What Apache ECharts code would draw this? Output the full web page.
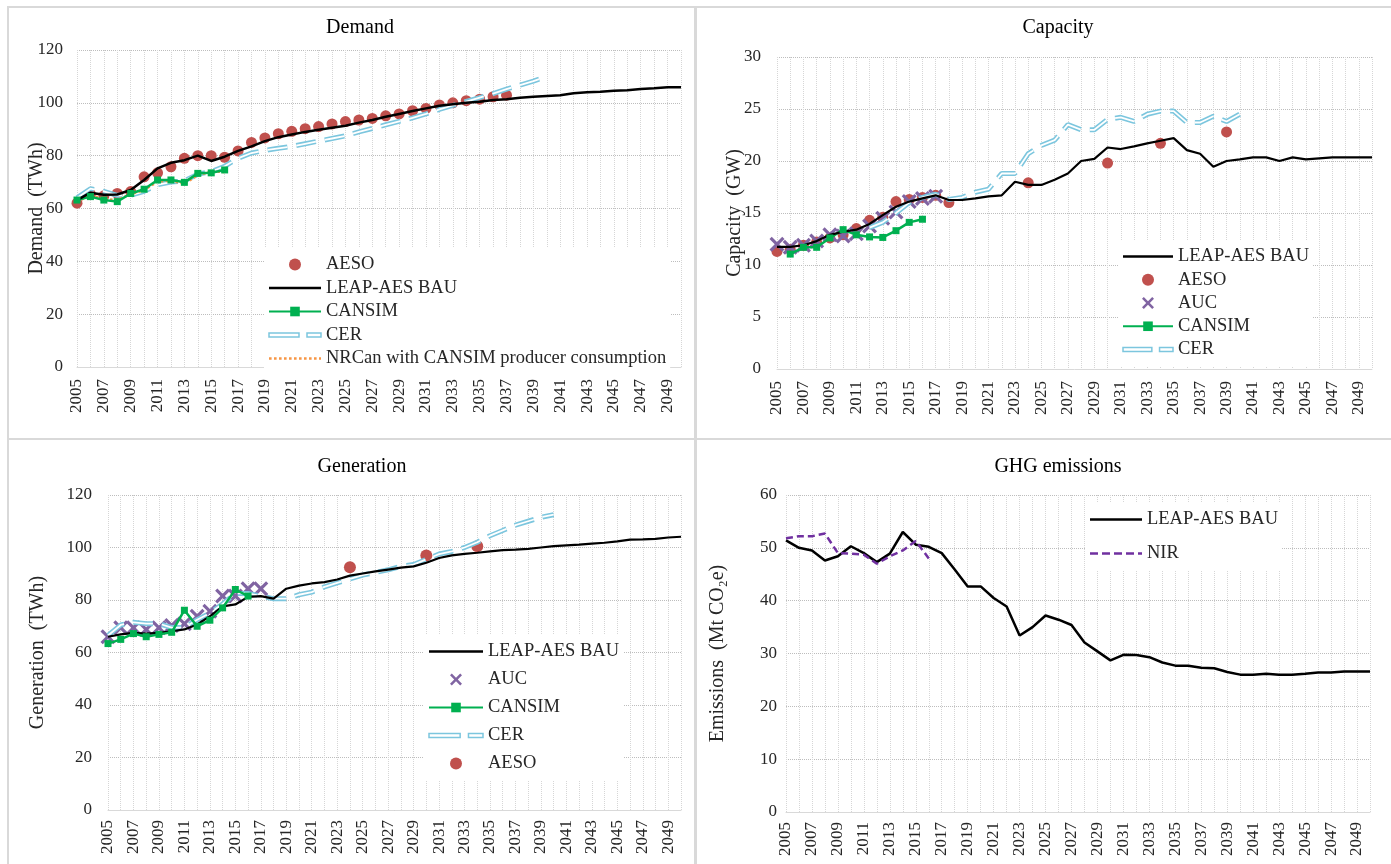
<!DOCTYPE html>
<html><head><meta charset="utf-8">
<script src="https://cdn.jsdelivr.net/npm/echarts@6/dist/echarts.min.js"></script>
<style>html,body{margin:0;padding:0;background:#fff}#c{width:1391px;height:864px}</style>
</head><body><div id="c"></div>
<script>
// ---------- categories ----------
const years = [2005,2006,2007,2008,2009,2010,2011,2012,2013,2014,2015,2016,2017,2018,2019,2020,2021,2022,2023,2024,2025,2026,2027,2028,2029,2030,2031,2032,2033,2034,2035,2036,2037,2038,2039,2040,2041,2042,2043,2044,2045,2046,2047,2048,2049,2050];

// ---------- Demand (TWh) ----------
const demandAESO = [62.0,65.4,64.8,65.7,66.4,72.0,73.5,75.8,79.0,80.0,80.0,79.4,81.8,85.0,86.7,88.3,89.2,90.2,91.0,92.0,92.9,93.5,94.1,95.1,95.8,97.0,97.9,99.2,100.0,100.8,101.4,102.3,102.9];
const demandLEAP = [63.2,66.0,65.2,65.3,67.0,70.8,75.2,77.3,78.3,80.0,78.0,79.6,81.8,83.5,85.5,87.0,88.0,89.0,89.8,90.6,91.3,92.5,93.5,94.7,95.8,96.9,97.9,98.9,99.5,100.0,100.4,101.1,101.4,101.9,102.3,102.6,102.9,103.6,104.0,104.2,104.6,104.8,105.2,105.5,105.9,105.9];
const demandCANSIM = [63.2,64.5,63.2,62.6,65.7,67.3,70.8,70.8,69.9,73.3,73.5,74.6];
const demandCER = [64.0,67.5,66.5,65.0,65.0,66.5,69.0,70.0,70.5,73.0,74.0,76.0,79.0,81.0,82.0,82.8,83.5,84.5,85.5,86.5,87.5,89.0,90.3,91.7,93.0,94.3,95.8,97.5,99.0,100.5,102.0,103.5,105.2,106.7,108.2,110.0];
const demandNRCan = [62.6,65.0,63.6,63.2,65.4,67.0,70.2,70.5,69.4,72.6,74.0,73.8];

// ---------- Capacity (GW) ----------
const capLEAP = [11.75,11.75,11.9,12.3,12.9,13.2,13.4,13.95,14.8,15.6,16.1,16.4,16.7,16.25,16.25,16.4,16.6,16.7,18.0,17.7,17.7,18.2,18.8,20.0,20.2,21.3,21.15,21.4,21.7,21.95,22.2,21.05,20.7,19.45,20.0,20.15,20.35,20.35,20.0,20.35,20.15,20.25,20.35,20.35,20.35,20.35];
const capAESOYears = [2005,2006,2007,2008,2009,2010,2011,2012,2013,2014,2015,2016,2017,2018,2024,2030,2034,2039];
const capAESOValues = [11.3,11.5,11.9,12.2,12.6,12.9,13.5,14.3,14.6,16.1,16.3,16.5,16.7,16.0,17.9,19.8,21.7,22.8];
const capAUC = [12.0,11.7,11.9,12.3,12.9,12.8,13.0,13.75,14.5,15.1,16.1,16.4,16.6];
const capCANSIMStart = 2006;
const capCANSIM = [11.05,11.7,11.7,12.6,13.4,12.9,12.7,12.65,13.3,14.1,14.4];
const capCERStart = 2012;
const capCER = [13.6,14.1,15.0,16.0,16.5,16.8,16.3,16.5,17.0,17.3,18.8,18.8,20.7,21.5,22.0,23.5,23.0,23.0,24.0,24.2,23.8,24.5,24.8,24.8,23.7,23.7,24.3,23.8,24.5];

// ---------- Generation (TWh) ----------
const genLEAP = [66.0,66.9,67.5,67.2,67.5,68.1,68.8,70.7,73.8,77.6,78.3,81.2,81.5,80.5,84.3,85.5,86.3,86.8,87.8,89.3,90.1,90.9,91.6,92.3,92.8,94.2,96.0,97.0,97.6,98.0,98.5,99.0,99.2,99.5,100.0,100.5,100.8,101.1,101.5,101.8,102.3,103.0,103.1,103.3,103.8,104.1];
const genAUC = [66.0,69.4,69.4,68.8,69.4,70.3,71.0,73.8,75.7,81.5,81.5,84.3,84.3];
const genCANSIM = [63.4,65.0,67.2,66.0,66.9,67.7,76.1,70.0,72.3,77.0,84.0,81.5];
const genCER = [66.5,70.5,71.5,71.0,71.0,69.5,69.5,72.5,75.0,78.5,82.5,82.5,81.5,80.5,80.5,82.0,83.0,85.0,86.5,88.0,89.5,90.5,91.5,92.8,93.5,95.5,97.5,98.5,100.0,102.0,104.5,106.5,108.5,110.0,111.5,112.5];
const genAESOYears = [2024,2030,2034];
const genAESOValues = [92.5,97.0,100.5];

// ---------- GHG emissions (Mt CO2e) ----------
const ghgLEAP = [51.4,50.0,49.5,47.6,48.4,50.3,49.0,47.3,48.9,53.0,50.6,50.2,49.0,45.9,42.7,42.7,40.5,38.9,33.4,35.0,37.2,36.4,35.4,32.1,30.4,28.7,29.75,29.7,29.3,28.3,27.7,27.7,27.3,27.2,26.5,26.0,26.0,26.15,26.0,26.0,26.15,26.4,26.4,26.6,26.6,26.6];
const ghgNIR = [51.8,52.2,52.2,52.7,49.0,48.9,48.7,47.0,48.4,49.5,51.3,48.0];

// ---------- styling ----------
const FONT = '"Liberation Serif", "Times New Roman", serif';
const TXT = '#262626';
const C_AESO = '#c0504d', C_LEAP = '#000000', C_CANSIM = '#00b050', C_CER = '#7cc6de', C_NRCAN = '#f79646', C_AUC = '#8064a2', C_NIR = '#7030a0';
const CROSS = 'path://M3,0 L10,7 L17,0 L20,3 L13,10 L20,17 L17,20 L10,13 L3,20 L0,17 L7,10 L0,3 Z';
const CER_ICON = 'path://M0,0 H30 V4 H0 Z M38,0 H52 V4 H38 Z';
const CER_DASH = [20, 9];

function dashIcon(total, dash, gap, h){
  let p = 'path://';
  for (let x = 0; x < total; x += dash + gap) {
    const w = Math.min(dash, total - x);
    p += 'M' + x + ',0 h' + w + ' v' + h + ' h-' + w + ' Z ';
  }
  return p;
}
const ICON_SOLID = 'path://M0,0 H52 V2.6 H0 Z';
const ICON_DOT = dashIcon(52, 2.6, 2.4, 2.6);
const ICON_NIR = dashIcon(52, 8, 4, 2.6);

const cats = years.map(String);
function pad(start, arr){ return new Array(start - years[0]).fill(null).concat(arr); }
function pairs(ys, vs){ return ys.map((y, i) => [String(y), vs[i]]); }

function xAx(g, margin){
  return {type:'category', gridIndex:g, data:cats, boundaryGap:false,
    axisTick:{show:false}, axisLine:{lineStyle:{color:'#d9d9d9', width:1}},
    axisLabel:{rotate:90, interval:1, fontSize:17, fontFamily:FONT, color:TXT, margin:margin},
    splitLine:{show:true, interval:0, lineStyle:{color:'#d6d6d6', type:'dotted'}}};
}
function yAx(g, max, interval, name, gap, margin){
  return {type:'value', gridIndex:g, min:0, max:max, interval:interval,
    name:name, nameLocation:'middle', nameGap:gap, nameRotate:90, nameMoveOverlap:false,
    nameTextStyle:{fontFamily:FONT, fontSize:20, color:TXT},
    axisLine:{show:false}, axisTick:{show:false},
    axisLabel:{fontSize:17, fontFamily:FONT, color:TXT, margin:margin},
    splitLine:{lineStyle:{color:'#bdbdbd', type:'dotted'}}};
}
function lineS(name, g, data, color, width, extra){
  return Object.assign({type:'line', name:name, xAxisIndex:g, yAxisIndex:g, data:data,
    symbol:'none', showSymbol:false, connectNulls:false, silent:true,
    lineStyle:{color:color, width:width}, itemStyle:{color:color}}, extra || {});
}
function cerS(g, data){
  return [
    lineS('CER', g, data, C_CER, 5, {lineStyle:{color:C_CER, width:5, type:CER_DASH, cap:'butt'}}),
    lineS('CER_inner', g, data, '#ffffff', 1.8, {lineStyle:{color:'#ffffff', width:1.8, type:CER_DASH, cap:'butt'}})
  ];
}
function cansimS(g, data){
  return lineS('CANSIM', g, data, C_CANSIM, 2.5, {symbol:'rect', showSymbol:true, symbolSize:7});
}
function aesoS(g, data, size){
  return {type:'scatter', name:'AESO', xAxisIndex:g, yAxisIndex:g, data:data, symbol:'circle', symbolSize:size, itemStyle:{color:C_AESO, opacity:1}, silent:true};
}
function aucS(g, data){
  return {type:'scatter', name:'AUC', xAxisIndex:g, yAxisIndex:g, data:data, symbol:CROSS, symbolSize:15, itemStyle:{color:C_AUC, opacity:1}, silent:true};
}
function legend(items, left, top, gap, w){
  return {orient:'vertical', left:left, top:top, itemGap:gap, itemWidth:w, itemHeight:12,
    backgroundColor:'#ffffff', padding:[6,4,6,4], selectedMode:false,
    textStyle:{fontFamily:FONT, fontSize:18.5, color:TXT, lineHeight:21},
    data:items};
}
const L_LEAP = {name:'LEAP-AES BAU', icon:ICON_SOLID};
const L_AESO = {name:'AESO'};
const L_AUC = {name:'AUC'};
const L_CANSIM = {name:'CANSIM'};
const L_CER = {name:'CER', icon:CER_ICON, itemStyle:{color:'#ffffff', borderColor:C_CER, borderWidth:1.5}};
const L_NRCAN = {name:'NRCan with CANSIM producer consumption', icon:ICON_DOT};
const L_NIR = {name:'NIR', icon:ICON_NIR};

function titleT(text, x, y){
  return {text:text, left:x, top:y, textAlign:'center', padding:0,
    textStyle:{fontFamily:FONT, fontSize:20, fontWeight:'normal', color:'#000'}};
}
function bar(x, y, w, h){ return {type:'rect', shape:{x:x, y:y, width:w, height:h}, style:{fill:'#d9d9d9'}, silent:true}; }

const option = {
  animation:false,
  backgroundColor:'#ffffff',
  title:[
    titleT('Demand', 360, 18),
    titleT('Capacity', 1058, 18),
    titleT('Generation', 362, 457),
    titleT('GHG emissions', 1058, 457)
  ],
  graphic:[
    bar(8, 6, 1383, 2),
    bar(7, 6, 2, 858),
    bar(694, 6, 3, 858),
    bar(8, 438, 1383, 2)
  ],
  grid:[
    {left:77, right:710, top:50, bottom:497},
    {left:777, right:19, top:57, bottom:495},
    {left:108, right:710, top:495, bottom:54},
    {left:786, right:21, top:495, bottom:52}
  ],
  xAxis:[xAx(0, 12), xAx(1, 12), xAx(2, 10), xAx(3, 10)],
  yAxis:[
    yAx(0, 120, 20, 'Demand  (TWh)', 30, 14),
    yAx(1, 30, 5, 'Capacity  (GW)', 32, 16),
    yAx(2, 120, 20, 'Generation  (TWh)', 60, 16),
    yAx(3, 60, 10, 'Emissions  (Mt CO\u2082e)', 58, 9)
  ],
  legend:[
    legend([L_AESO, L_LEAP, L_CANSIM, L_CER, L_NRCAN], 264, 248, 2.5, 52),
    legend([L_LEAP, L_AESO, L_AUC, L_CANSIM, L_CER], 1118, 240, 2.25, 50),
    legend([L_LEAP, L_AUC, L_CANSIM, L_CER, L_AESO], 424, 635, 7, 54),
    legend([L_LEAP, L_NIR], 1086, 503, 13, 52)
  ],
  series:[
    // Demand
    ...cerS(0, demandCER),
    lineS('NRCan with CANSIM producer consumption', 0, demandNRCan, C_NRCAN, 2.5, {lineStyle:{color:C_NRCAN, width:2.5, type:'dotted'}}),
    cansimS(0, demandCANSIM),
    lineS('LEAP-AES BAU', 0, demandLEAP, C_LEAP, 2.5),
    aesoS(0, demandAESO, 11),
    // Capacity
    ...cerS(1, pad(capCERStart, capCER)),
    cansimS(1, pad(capCANSIMStart, capCANSIM)),
    lineS('LEAP-AES BAU', 1, capLEAP, C_LEAP, 2.2),
    aesoS(1, pairs(capAESOYears, capAESOValues), 11),
    aucS(1, capAUC),
    // Generation
    ...cerS(2, genCER),
    lineS('LEAP-AES BAU', 2, genLEAP, C_LEAP, 2.2),
    cansimS(2, genCANSIM),
    aucS(2, genAUC),
    aesoS(2, pairs(genAESOYears, genAESOValues), 12),
    // GHG
    lineS('LEAP-AES BAU', 3, ghgLEAP, C_LEAP, 2.5),
    lineS('NIR', 3, ghgNIR, C_NIR, 2.5, {lineStyle:{color:C_NIR, width:2.5, type:[7,4]}})
  ]
};
const chart = echarts.init(document.getElementById('c'), null, {renderer:'canvas'});
chart.setOption(option);
</script>
</body></html>
